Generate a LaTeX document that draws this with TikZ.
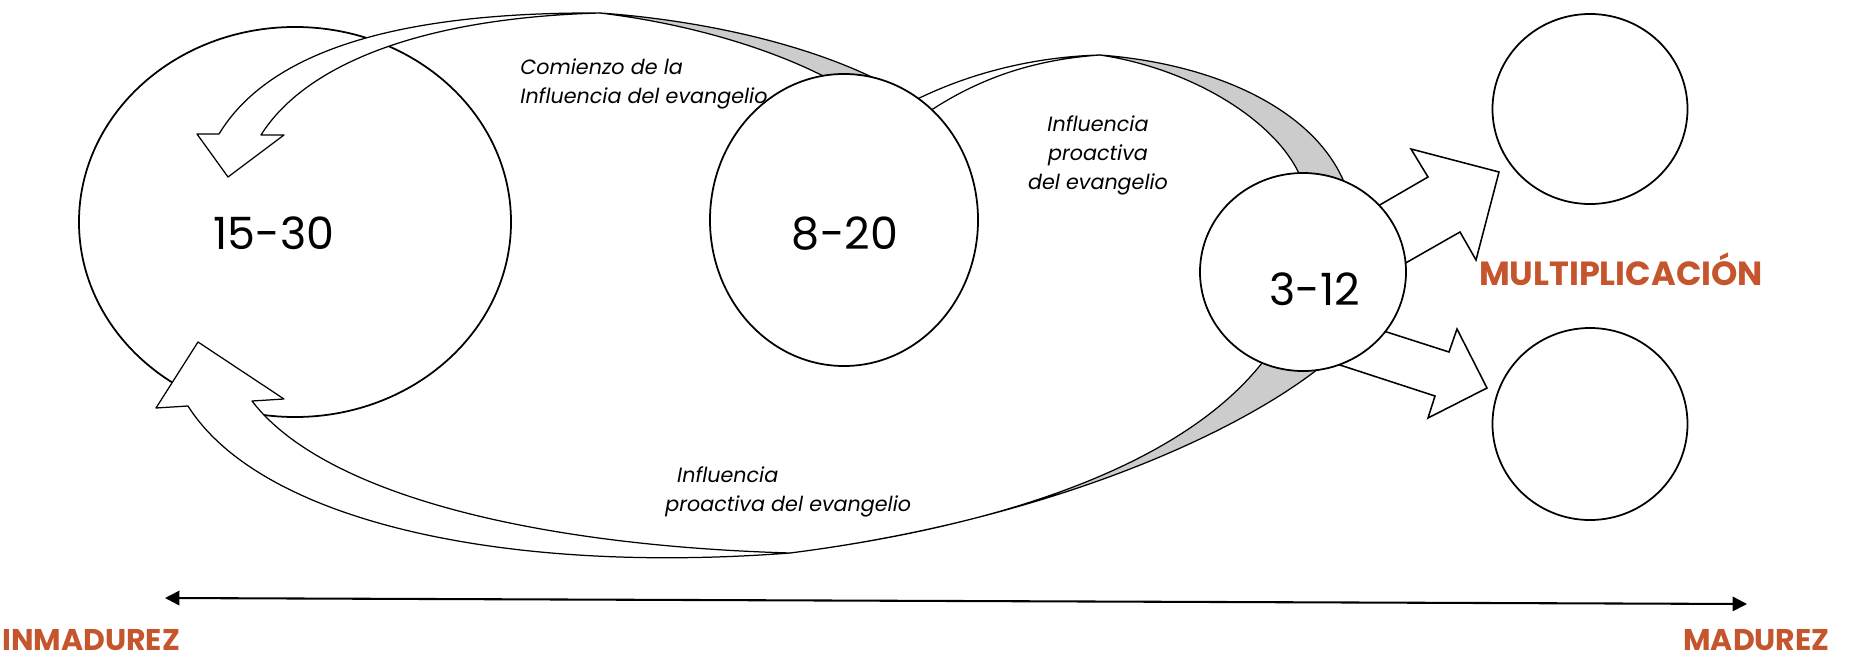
\documentclass[tikz,border=0pt]{standalone}
\usepackage{fontspec}
\setmainfont{Poppins}
\usepackage{tikz}
\usetikzlibrary{arrows.meta, shapes.geometric, positioning}
\definecolor{accent}{RGB}{197,85,45}
\definecolor{backside}{RGB}{204,204,204}
\tikzset{
    bubble/.style={ellipse, draw, line width=0.85pt, fill=white, inner sep=0pt},
    numtext/.style={font=\fontsize{21.5}{26}\selectfont, inner sep=0pt},
    remark/.style={font=\fontsize{10}{14}\selectfont\itshape, inner sep=0pt},
    stagetext/.style={font=\fontsize{14.5}{18}\selectfont\bfseries, text=accent, inner sep=0pt},
    ribbon/.style={draw, line width=0.6pt, fill=white, line join=round},
    underside/.style={ribbon, fill=backside},
    blockarrow/.style={draw, line width=0.75pt, fill=white, line join=miter},
    axis/.style={{Triangle[length=7pt,width=7pt]}-{Triangle[length=7pt,width=7pt]}, line width=1pt}
}

\begin{document}
\begin{tikzpicture}[x=0.017cm, y=-0.017cm]
    \useasboundingbox (0,0) rectangle (1850,659);

    % Big group
    \node[bubble, minimum width=7.344cm, minimum height=6.63cm] (g1530) at (295,222) {};

    % Ribbon back to the big group (top)
    \draw[ribbon] (219,134) .. controls (270,50) and (400,12) .. (600,13)
        .. controls (420,18) and (305,65) .. (261,135)
        -- (284,135) -- (228,177) -- (197,134) -- cycle;
    \draw[underside] (600,13) .. controls (700,20) and (820,45) .. (900,92)
        -- (845,88) .. controls (790,55) and (700,25) .. (600,13) -- cycle;

    % Ribbon from middle group to small group
    \draw[ribbon] (900,108) .. controls (960,75) and (1030,57) .. (1100,55)
        .. controls (1030,60) and (970,80) .. (910,125) -- cycle;
    \draw[underside] (1100,55) .. controls (1230,65) and (1330,120) .. (1350,200)
        -- (1305,190) .. controls (1290,130) and (1200,70) .. (1100,55) -- cycle;

    % Ribbon back to the big group (bottom)
    \draw[ribbon] (188,406) .. controls (260,520) and (500,575) .. (790,553)
        .. controls (520,545) and (320,490) .. (252,401)
        -- (284,399) -- (198,342) -- (156,408) -- cycle;
    \draw[underside] (790,553) .. controls (1010,525) and (1200,460) .. (1275,345)
        -- (1335,355) .. controls (1250,430) and (1050,520) .. (790,553) -- cycle;

    % Multiplication arrows
    \draw[blockarrow] (1340,228) -- (1428,177) -- (1411,149) -- (1499,172)
        -- (1476,260) -- (1460,232) -- (1367,285) -- cycle;
    \draw[blockarrow] (1340,317) -- (1449,352) -- (1457,329) -- (1487,388)
        -- (1428,418) -- (1435,396) -- (1300,352) -- cycle;

    % Middle and small groups
    \node[bubble, minimum width=4.556cm, minimum height=4.964cm] (g820) at (844,220) {};
    \node[bubble, minimum width=3.502cm, minimum height=3.366cm] (g312) at (1303,272) {};

    % New groups
    \node[bubble, minimum width=3.315cm, minimum height=3.23cm] (next1) at (1590,109) {};
    \node[bubble, minimum width=3.315cm, minimum height=3.264cm] (next2) at (1590,424) {};

    % Sizes
    \node[numtext] (n1530) at (274,233) {15-30};
    \node[numtext] (n820) at (845,234) {8-20};
    \node[numtext] (n312) at (1315,289) {3-12};

    % Notes
    \node[remark, align=left, anchor=west] (start) at (520,84) {Comienzo de la\\Influencia del evangelio};
    \node[remark, align=center] (proact) at (1098,155) {Influencia\\proactiva\\del evangelio};
    \node[remark, align=left, anchor=west] (proactlow) at (665,492) {\hspace{0.2cm}Influencia\\proactiva del evangelio};

    % Stages
    \node[stagetext, font=\fontsize{16.2}{18}\selectfont\bfseries] (mult) at (1621,269) {MULTIPLICACIÓN};
    \node[stagetext, anchor=base west] (inm) at (2,650) {INMADUREZ};
    \node[stagetext, anchor=base east] (mad) at (1830,650) {MADUREZ};

    % Maturity axis
    \coordinate (axl) at (165,598);
    \coordinate (axr) at (1747,604);
    \draw[axis] (axl) -- (axr);
\end{tikzpicture}
\end{document}
